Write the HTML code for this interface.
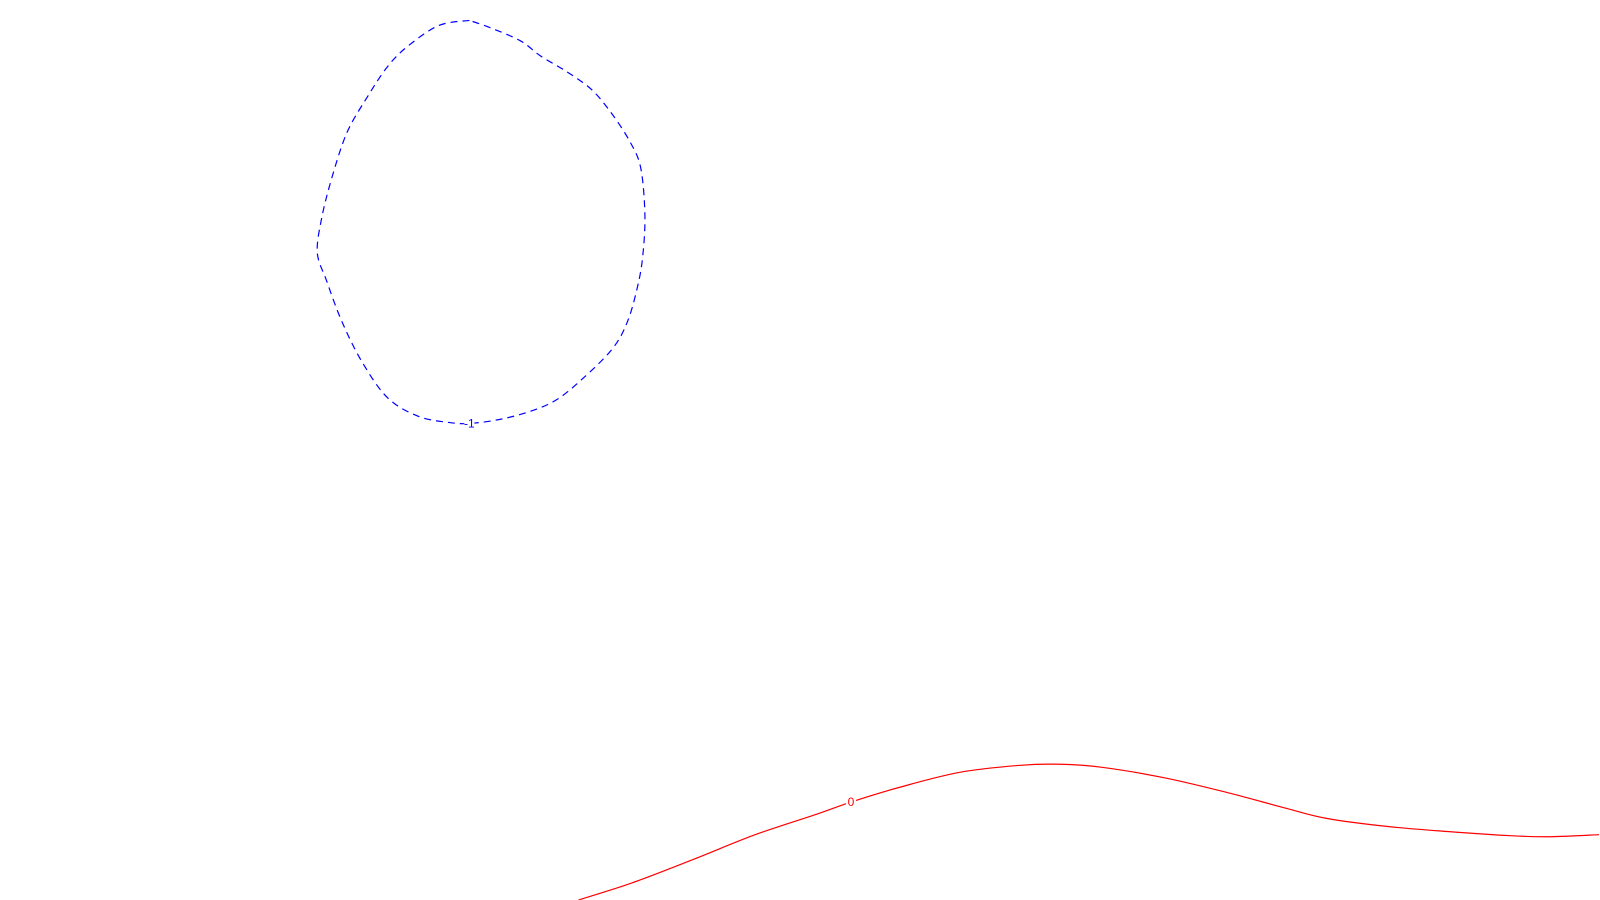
<!DOCTYPE html>
<html><head><meta charset="utf-8"><style>
html,body{margin:0;padding:0;background:#fff;width:1600px;height:900px;overflow:hidden}
svg{display:block}
text{font-family:"Liberation Sans",sans-serif;font-size:12px}
</style></head><body>
<svg id="chart" width="1600" height="900">
<g id="layer"></g>
</svg>
<script>
// contour level values
const levels = [-1, 0];
const levelLabels = ["-1", "0"];
// contour path samples (data coordinates)
const contourNegX = [460,430,400,380,360,340,325,315,311,320,335,355,380,410,440,460,490,520,545,570,600,615,625,630,632,628,618,600,580,555,530,510,480,460];
const contourNegY = [20,25,45,65,95,130,175,215,248,275,315,355,390,408,414,415,411,403,392,372,342,315,280,250,210,165,140,112,88,70,55,40,27,20];
const contourZeroX = [567,620,680,740,800,834,880,940,1000,1040,1080,1140,1200,1260,1300,1360,1420,1480,1520,1567];
const contourZeroY = [882,865,842,818,798,786,772,757,750,749,752,762,776,792,802,810,815,819,820,818];
const labelPosX = [460, 834];
const labelPosY = [415, 786];

const K = 1.0204;
const sx = v => v*K, sy = v => v*K;
const NS = "http://www.w3.org/2000/svg";
const layer = document.getElementById('layer');
function smoothPath(xs, ys){
  let d = `M${sx(xs[0])},${sy(ys[0])}`;
  for(let i=0;i<xs.length-1;i++){
    const p0=[xs[Math.max(i-1,0)],ys[Math.max(i-1,0)]],p1=[xs[i],ys[i]],p2=[xs[i+1],ys[i+1]],p3=[xs[Math.min(i+2,xs.length-1)],ys[Math.min(i+2,xs.length-1)]];
    const c1=[p1[0]+(p2[0]-p0[0])/6,p1[1]+(p2[1]-p0[1])/6],c2=[p2[0]-(p3[0]-p1[0])/6,p2[1]-(p3[1]-p1[1])/6];
    d+=` C${sx(c1[0])},${sy(c1[1])} ${sx(c2[0])},${sy(c2[1])} ${sx(p2[0])},${sy(p2[1])}`;
  }
  return d;
}
const series=[[contourNegX,contourNegY,'#0000ff','7,5'],[contourZeroX,contourZeroY,'#ff0000','']];
series.forEach((s,i)=>{
  const p=document.createElementNS(NS,'path');
  p.setAttribute('d',smoothPath(s[0],s[1]));
  p.setAttribute('fill','none');p.setAttribute('stroke',s[2]);p.setAttribute('stroke-width','1.2');
  if(s[3])p.setAttribute('stroke-dasharray',s[3]);
  
  
  layer.appendChild(p);
  const bg=document.createElementNS(NS,'rect');
  bg.setAttribute('x',sx(labelPosX[i])-5);bg.setAttribute('y',sy(labelPosY[i])-6);
  bg.setAttribute('width',10);bg.setAttribute('height',12);bg.setAttribute('fill','#fff');
  
  
  layer.appendChild(bg);
  const t=document.createElementNS(NS,'text');
  t.setAttribute('x',sx(labelPosX[i]));t.setAttribute('y',sy(labelPosY[i])+4);
  t.setAttribute('text-anchor','middle');t.setAttribute('fill',s[2]);
  t.textContent=levelLabels[i];
  
  
  layer.appendChild(t);
});
</script>
</body></html>
